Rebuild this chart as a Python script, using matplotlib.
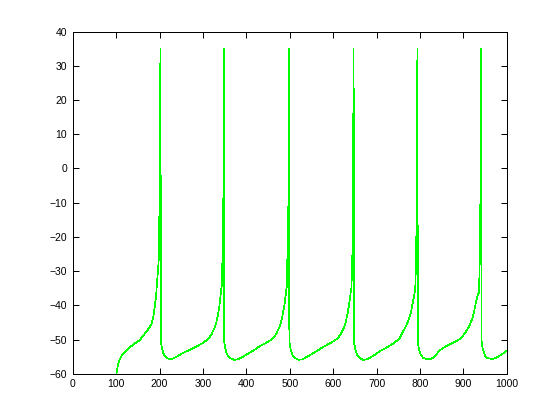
import numpy as np
import matplotlib
matplotlib.use('Agg')
import matplotlib.pyplot as plt

# membrane potential trace (time in ms, voltage in mV)
t_start = [100, 104, 108, 112, 118, 125, 131, 140, 154, 165, 173, 181, 186, 189, 192, 194, 196, 198, 200, 201, 202]
v_start = [-60.5, -57.5, -55.8, -54.8, -53.8, -52.9, -52.3, -51.4, -50.2, -48.4, -47.1, -45.6, -43.0, -40.3, -37.0, -33.5, -30.0, -26.7, -9.0, 19.6, 35]

t_a = [203, 205, 208, 211, 216, 223, 230, 238, 250, 269, 285, 300, 312, 319, 326, 331, 334, 338, 341, 343, 345, 346, 347, 348]
v_a = [-50.8, -52.3, -53.8, -54.6, -55.3, -55.8, -55.6, -55.1, -54.2, -53.0, -52.0, -51.0, -49.8, -48.6, -46.8, -44.8, -43.2, -40.0, -36.5, -34.5, -26.0, -17.3, -7.6, 35]

t_b = [349, 351, 354, 357, 362, 372, 380, 388, 400, 415, 430, 445, 460, 468, 475, 480, 484, 488, 491, 493, 495, 497, 498]
v_b = [-50.8, -52.3, -53.8, -54.7, -55.4, -55.9, -55.8, -55.3, -54.4, -53.3, -52.0, -51.0, -49.8, -48.5, -46.7, -44.8, -42.5, -39.5, -36.5, -34.5, -22.8, -8.5, 35]

t_c = [499, 501, 504, 507, 512, 520, 528, 536, 548, 563, 579, 594, 609, 617, 624, 629, 633, 637, 640, 642, 644, 645, 646, 647]
v_c = [-50.8, -52.3, -53.8, -54.7, -55.4, -55.9, -55.8, -55.3, -54.4, -53.3, -52.0, -51.0, -49.8, -48.5, -46.7, -44.8, -42.5, -39.5, -36.5, -35.0, -26.7, -15.0, 2.0, 35]

t_d = [648, 650, 653, 656, 661, 669, 677, 685, 697, 706, 725, 740, 752, 759, 766, 772, 779, 782, 786, 789, 791, 792, 793, 794]
v_d = [-50.8, -52.3, -53.8, -54.7, -55.4, -55.9, -55.8, -55.3, -54.4, -53.5, -52.2, -51.0, -49.8, -48.1, -46.5, -44.8, -42.3, -40.0, -37.5, -35.4, -26.7, -15.0, 2.0, 35]

t_e = [795, 797, 800, 803, 808, 817, 825, 833, 845, 859, 875, 890, 903, 913, 920, 924, 929, 933, 936, 938, 939, 940, 941]
v_e = [-50.6, -52.3, -53.8, -54.7, -55.4, -55.7, -55.6, -55.1, -53.2, -52.0, -51.0, -50.0, -48.3, -46.2, -44.0, -42.3, -39.0, -37.0, -36.3, -25.0, -12.0, 19.6, 35]

t_f = [942, 944, 947, 950, 955, 966, 975, 985, 993, 1000]
v_f = [-50.6, -52.3, -53.8, -54.7, -55.4, -55.7, -55.4, -54.6, -53.9, -53.3]

t = t_start + t_a + t_b + t_c + t_d + t_e + t_f
v = v_start + v_a + v_b + v_c + v_d + v_e + v_f

plt.rcParams['font.family'] = ['Liberation Sans', 'DejaVu Sans']
plt.rcParams['font.size'] = 7.5

fig = plt.figure(figsize=(5.6, 4.2), dpi=100)
ax = fig.add_axes([0.13, 0.11, 0.775, 0.815])
ax.plot(t, v, color=(0, 1, 0), linewidth=0.5, antialiased=False)

ax.set_xlim(0, 1000)
ax.set_ylim(-60, 40)
ax.set_xticks(np.arange(0, 1001, 100))
ax.set_yticks(np.arange(-60, 41, 10))
ax.tick_params(direction='in', top=True, right=True, length=4, width=0.72, pad=4)
for s in ax.spines.values():
    s.set_linewidth(0.72)

fig.savefig('out.png', dpi=100)
